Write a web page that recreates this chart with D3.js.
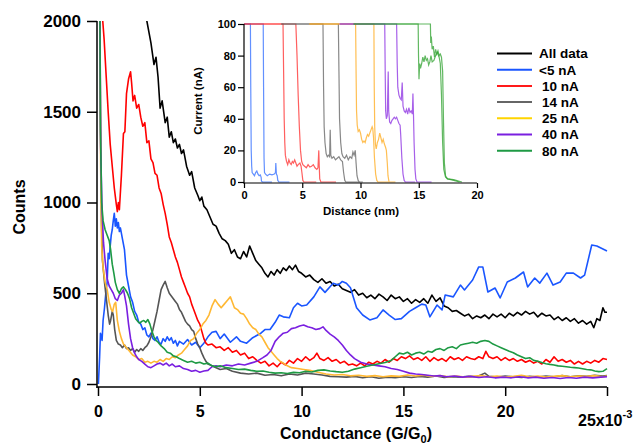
<!DOCTYPE html>
<html>
<head>
<meta charset="utf-8">
<script src="https://cdn.jsdelivr.net/npm/d3@7/dist/d3.min.js"></script>
<style>
  body { margin: 0; background: #fff; }
  svg { display: block; font-family: "Liberation Sans", Arial, sans-serif; }
</style>
</head>
<body>
<svg width="641" height="444"></svg>
<script>
// main histogram: conductance (x1e-3 G/G0) -> counts
const countsAll = [[2.2, 2300], [2.4, 2000], [2.6, 1880], [2.75, 1760], [2.85, 1800], [2.95, 1690], [3.05, 1520], [3.15, 1560], [3.3, 1440], [3.4, 1470], [3.5, 1360], [3.6, 1390], [3.7, 1330], [3.8, 1350], [3.9, 1300], [4.0, 1320], [4.1, 1270], [4.2, 1290], [4.35, 1200], [4.5, 1150], [4.6, 1170], [4.75, 1080], [4.9, 1040], [5.0, 1010], [5.1, 1030], [5.2, 980], [5.35, 960], [5.5, 920], [5.65, 880], [5.8, 870], [5.95, 830], [6.1, 800], [6.25, 790], [6.4, 770], [6.55, 720], [6.7, 740], [6.85, 700], [7.0, 690], [7.15, 730], [7.3, 700], [7.45, 760], [7.6, 720], [7.75, 680], [7.9, 660], [8.05, 640], [8.2, 610], [8.35, 590], [8.5, 620], [8.65, 600], [8.8, 630], [8.95, 610], [9.1, 640], [9.25, 625], [9.4, 650], [9.55, 630], [9.7, 655], [9.85, 620], [10.0, 610], [10.2, 590], [10.4, 600], [10.6, 575], [10.8, 560], [11.0, 580], [11.2, 555], [11.4, 565], [11.6, 540], [11.8, 550], [12.0, 525], [12.2, 515], [12.4, 505], [12.6, 520], [12.8, 490], [13.0, 500], [13.2, 475], [13.4, 490], [13.6, 470], [13.8, 495], [14.0, 480], [14.2, 460], [14.4, 490], [14.6, 470], [14.8, 480], [15.0, 455], [15.2, 470], [15.4, 445], [15.6, 465], [15.8, 450], [16.0, 470], [16.2, 445], [16.4, 490], [16.6, 455], [16.8, 475], [17.0, 430], [17.2, 420], [17.4, 400], [17.6, 405], [17.8, 390], [18.0, 375], [18.2, 385], [18.4, 360], [18.6, 375], [18.8, 365], [19.0, 380], [19.2, 360], [19.4, 385], [19.6, 370], [19.8, 385], [20.0, 365], [20.2, 390], [20.4, 375], [20.6, 395], [20.8, 380], [21.0, 400], [21.2, 385], [21.4, 395], [21.6, 370], [21.8, 390], [22.0, 375], [22.2, 380], [22.4, 355], [22.6, 370], [22.8, 350], [23.0, 365], [23.2, 345], [23.4, 360], [23.6, 335], [23.8, 350], [24.0, 330], [24.2, 345], [24.35, 310], [24.5, 360], [24.65, 350], [24.8, 420], [24.9, 395], [25.0, 395]];

const countsLt5 = [[0.02, 0], [0.08, 150], [0.12, 280], [0.2, 240], [0.25, 350], [0.32, 420], [0.4, 520], [0.45, 560], [0.5, 720], [0.55, 690], [0.6, 760], [0.65, 820], [0.7, 850], [0.75, 900], [0.8, 940], [0.85, 870], [0.9, 910], [0.95, 860], [1.0, 890], [1.05, 840], [1.1, 860], [1.2, 800], [1.3, 740], [1.4, 600], [1.5, 540], [1.6, 480], [1.7, 450], [1.8, 400], [1.9, 380], [2.0, 340], [2.1, 330], [2.2, 300], [2.3, 310], [2.4, 270], [2.5, 260], [2.6, 280], [2.7, 250], [2.8, 240], [2.9, 260], [3.0, 230], [3.1, 220], [3.2, 250], [3.3, 235], [3.4, 260], [3.5, 240], [3.6, 255], [3.7, 225], [3.8, 240], [3.9, 210], [4.0, 235], [4.2, 220], [4.4, 245], [4.6, 215], [4.8, 230], [5.0, 200], [5.2, 225], [5.4, 260], [5.6, 285], [5.8, 290], [6.0, 250], [6.2, 275], [6.5, 230], [6.8, 260], [7.0, 235], [7.3, 225], [7.6, 255], [8.0, 280], [8.2, 300], [8.45, 300], [8.7, 340], [8.9, 380], [9.1, 370], [9.4, 365], [9.6, 420], [9.8, 445], [10.0, 430], [10.25, 435], [10.6, 480], [10.9, 535], [11.15, 505], [11.55, 555], [11.8, 545], [12.0, 565], [12.2, 555], [12.4, 530], [12.7, 420], [13.0, 380], [13.35, 353], [13.7, 365], [14.0, 408], [14.3, 380], [14.6, 355], [14.9, 360], [15.3, 400], [15.6, 420], [15.9, 440], [16.1, 435], [16.3, 370], [16.65, 435], [16.9, 408], [17.05, 490], [17.45, 480], [17.8, 545], [18.0, 518], [18.4, 573], [18.7, 645], [18.9, 645], [19.15, 507], [19.5, 529], [19.75, 474], [20.1, 562], [20.5, 584], [20.9, 617], [21.1, 535], [21.45, 584], [21.7, 556], [22.05, 611], [22.35, 545], [22.7, 562], [23.0, 611], [23.35, 611], [23.7, 584], [23.9, 600], [24.25, 766], [24.5, 760], [25.0, 733]];

const counts10 = [[0.12, 2400], [0.2, 2050], [0.3, 1900], [0.4, 1700], [0.5, 1500], [0.6, 1320], [0.7, 1200], [0.8, 1080], [0.9, 990], [0.95, 950], [1.0, 1000], [1.05, 960], [1.15, 1150], [1.25, 1380], [1.32, 1390], [1.4, 1600], [1.5, 1680], [1.6, 1720], [1.65, 1660], [1.72, 1560], [1.8, 1590], [1.9, 1520], [2.0, 1540], [2.1, 1470], [2.2, 1420], [2.3, 1440], [2.4, 1330], [2.5, 1340], [2.6, 1240], [2.7, 1220], [2.8, 1160], [2.9, 1150], [3.0, 1080], [3.1, 1050], [3.2, 990], [3.3, 940], [3.4, 880], [3.5, 810], [3.6, 780], [3.7, 740], [3.8, 700], [3.9, 670], [4.0, 630], [4.1, 590], [4.2, 560], [4.3, 530], [4.4, 500], [4.5, 480], [4.6, 440], [4.7, 410], [4.8, 380], [4.9, 350], [5.0, 330], [5.1, 290], [5.2, 250], [5.3, 225], [5.4, 215], [5.6, 220], [5.8, 200], [6.0, 205], [6.2, 185], [6.4, 200], [6.6, 175], [6.8, 185], [7.0, 160], [7.2, 170], [7.4, 140], [7.6, 150], [7.8, 130], [8.0, 115], [8.2, 125], [8.4, 100], [8.6, 115], [8.8, 95], [9.0, 120], [9.2, 105], [9.4, 130], [9.6, 115], [9.8, 140], [10.0, 125], [10.2, 150], [10.4, 130], [10.6, 145], [10.75, 170], [10.9, 140], [11.1, 130], [11.3, 145], [11.5, 125], [11.7, 135], [11.9, 115], [12.1, 125], [12.3, 105], [12.5, 110], [12.7, 100], [12.9, 115], [13.1, 100], [13.3, 120], [13.5, 110], [13.7, 125], [13.9, 115], [14.1, 135], [14.3, 120], [14.5, 140], [14.7, 130], [14.9, 150], [15.1, 140], [15.3, 155], [15.5, 135], [15.7, 145], [15.9, 130], [16.1, 150], [16.3, 125], [16.5, 145], [16.7, 130], [16.9, 140], [17.1, 125], [17.3, 150], [17.5, 135], [17.7, 145], [17.9, 130], [18.1, 150], [18.3, 140], [18.5, 135], [18.7, 150], [18.9, 140], [19.05, 180], [19.2, 150], [19.4, 140], [19.6, 150], [19.8, 130], [20.0, 145], [20.2, 130], [20.4, 140], [20.6, 125], [20.8, 135], [21.0, 120], [21.2, 130], [21.4, 115], [21.6, 125], [21.8, 110], [22.0, 135], [22.2, 120], [22.4, 150], [22.6, 125], [22.8, 135], [23.0, 120], [23.2, 130], [23.4, 110], [23.6, 125], [23.8, 110], [24.0, 125], [24.2, 115], [24.4, 130], [24.6, 120], [24.8, 140], [25.0, 135]];

const counts14 = [[0.08, 2400], [0.12, 1500], [0.17, 900], [0.22, 680], [0.27, 620], [0.32, 560], [0.4, 480], [0.5, 380], [0.57, 330], [0.62, 350], [0.7, 400], [0.75, 380], [0.82, 300], [0.9, 240], [1.0, 220], [1.1, 215], [1.2, 200], [1.3, 215], [1.4, 195], [1.5, 200], [1.6, 185], [1.7, 195], [1.8, 175], [1.9, 190], [2.0, 180], [2.1, 195], [2.2, 185], [2.3, 200], [2.4, 210], [2.5, 230], [2.6, 260], [2.7, 300], [2.8, 350], [2.9, 400], [3.0, 460], [3.1, 520], [3.2, 545], [3.3, 565], [3.4, 530], [3.5, 500], [3.6, 485], [3.7, 470], [3.8, 455], [3.9, 440], [4.0, 410], [4.1, 395], [4.2, 370], [4.3, 345], [4.4, 330], [4.5, 320], [4.6, 300], [4.7, 290], [4.8, 250], [4.9, 220], [5.0, 200], [5.1, 170], [5.2, 145], [5.3, 125], [5.4, 110], [5.6, 100], [5.8, 90], [6.0, 80], [6.3, 85], [6.6, 70], [7.0, 60], [7.4, 55], [7.8, 60], [8.2, 48], [8.6, 52], [9.0, 45], [9.4, 55], [9.8, 50], [10.2, 60], [10.6, 55], [11.0, 50], [11.4, 42], [11.8, 40], [12.2, 38], [12.6, 42], [13.0, 34], [13.4, 40], [13.8, 32], [14.2, 38], [14.6, 35], [15.0, 40], [15.4, 36], [15.8, 42], [16.2, 38], [16.6, 44], [17.0, 36], [17.4, 40], [17.8, 38], [18.2, 42], [18.6, 40], [19.0, 60], [19.2, 42], [19.6, 38], [20.0, 44], [20.4, 40], [20.8, 36], [21.2, 42], [21.6, 38], [22.0, 44], [22.4, 40], [22.8, 46], [23.2, 40], [23.6, 45], [24.0, 42], [24.4, 48], [24.8, 44], [25.0, 46]];

const counts25 = [[0.08, 2400], [0.13, 1200], [0.18, 760], [0.25, 640], [0.35, 560], [0.45, 520], [0.55, 450], [0.65, 410], [0.72, 400], [0.8, 440], [0.87, 450], [0.95, 350], [1.05, 290], [1.15, 250], [1.25, 220], [1.4, 200], [1.55, 180], [1.7, 160], [1.85, 150], [2.0, 135], [2.15, 140], [2.3, 120], [2.45, 125], [2.6, 115], [2.75, 125], [2.9, 120], [3.05, 135], [3.2, 125], [3.35, 140], [3.5, 135], [3.65, 150], [3.8, 145], [3.95, 160], [4.1, 170], [4.25, 190], [4.4, 210], [4.55, 240], [4.7, 250], [4.85, 280], [5.0, 300], [5.15, 330], [5.3, 350], [5.45, 380], [5.6, 430], [5.75, 465], [5.9, 440], [6.05, 420], [6.2, 440], [6.35, 460], [6.5, 480], [6.6, 450], [6.7, 420], [6.85, 410], [7.0, 390], [7.15, 385], [7.3, 360], [7.45, 330], [7.6, 310], [7.75, 300], [7.9, 275], [8.05, 260], [8.2, 230], [8.35, 200], [8.5, 180], [8.65, 160], [8.8, 140], [8.95, 125], [9.1, 115], [9.3, 100], [9.5, 90], [9.8, 85], [10.1, 80], [10.4, 75], [10.8, 65], [11.2, 55], [11.6, 50], [12.0, 52], [12.4, 45], [12.8, 48], [13.2, 42], [13.6, 46], [14.0, 40], [14.4, 45], [14.8, 42], [15.2, 50], [15.6, 44], [16.0, 48], [16.4, 42], [16.8, 46], [17.2, 40], [17.6, 44], [18.0, 38], [18.4, 42], [18.8, 46], [19.2, 40], [19.6, 44], [20.0, 38], [20.4, 42], [20.8, 48], [21.2, 40], [21.6, 44], [22.0, 38], [22.4, 42], [22.8, 46], [23.2, 40], [23.6, 44], [24.0, 42], [24.4, 46], [24.8, 40], [25.0, 44]];

const counts40 = [[0.08, 2400], [0.13, 1300], [0.2, 950], [0.27, 780], [0.35, 680], [0.45, 580], [0.55, 540], [0.65, 520], [0.75, 500], [0.85, 470], [0.95, 460], [1.05, 490], [1.15, 500], [1.25, 520], [1.32, 480], [1.4, 430], [1.5, 330], [1.6, 250], [1.7, 200], [1.8, 170], [1.9, 150], [2.0, 135], [2.15, 125], [2.3, 110], [2.45, 95], [2.6, 90], [2.75, 100], [2.9, 110], [3.05, 115], [3.2, 105], [3.35, 115], [3.5, 100], [3.65, 110], [3.8, 95], [4.0, 100], [4.2, 85], [4.4, 80], [4.6, 70], [4.8, 75], [5.0, 65], [5.2, 72], [5.4, 75], [5.6, 95], [5.8, 100], [6.0, 95], [6.3, 105], [6.6, 100], [6.9, 110], [7.2, 105], [7.5, 115], [7.8, 125], [8.1, 145], [8.3, 160], [8.5, 185], [8.7, 235], [8.9, 260], [9.1, 280], [9.3, 285], [9.5, 305], [9.7, 310], [9.9, 320], [10.1, 325], [10.3, 315], [10.5, 310], [10.7, 300], [10.9, 305], [11.05, 315], [11.2, 295], [11.4, 275], [11.6, 260], [11.8, 240], [12.0, 215], [12.2, 185], [12.4, 160], [12.6, 140], [12.9, 120], [13.2, 110], [13.5, 105], [13.8, 100], [14.1, 95], [14.4, 85], [14.7, 80], [15.0, 70], [15.3, 60], [15.6, 55], [15.9, 52], [16.2, 48], [16.5, 44], [16.8, 46], [17.1, 40], [17.5, 44], [17.9, 38], [18.3, 42], [18.7, 36], [19.1, 40], [19.5, 34], [19.9, 38], [20.3, 34], [20.7, 40], [21.1, 34], [21.5, 38], [21.9, 32], [22.3, 36], [22.7, 30], [23.1, 36], [23.5, 32], [23.9, 38], [24.3, 34], [24.7, 38], [25.0, 40]];

const counts80 = [[0.08, 2400], [0.12, 1400], [0.18, 1000], [0.25, 900], [0.35, 850], [0.45, 820], [0.55, 790], [0.62, 740], [0.7, 660], [0.78, 610], [0.85, 560], [0.95, 520], [1.05, 500], [1.15, 525], [1.25, 535], [1.35, 520], [1.45, 500], [1.55, 470], [1.65, 420], [1.75, 390], [1.85, 360], [1.95, 345], [2.05, 335], [2.15, 345], [2.25, 350], [2.35, 340], [2.45, 355], [2.55, 330], [2.65, 290], [2.75, 260], [2.85, 240], [2.95, 230], [3.1, 210], [3.25, 195], [3.4, 175], [3.55, 170], [3.7, 155], [3.85, 150], [4.0, 140], [4.2, 130], [4.4, 120], [4.6, 125], [4.8, 115], [5.0, 120], [5.2, 110], [5.4, 115], [5.6, 100], [5.8, 95], [6.0, 100], [6.3, 90], [6.6, 85], [6.9, 80], [7.2, 82], [7.5, 75], [7.8, 70], [8.1, 72], [8.4, 65], [8.7, 60], [9.0, 62], [9.3, 58], [9.6, 64], [9.9, 62], [10.2, 70], [10.5, 66], [10.8, 75], [11.1, 78], [11.4, 72], [11.7, 68], [12.0, 65], [12.3, 70], [12.6, 82], [12.9, 90], [13.2, 98], [13.5, 105], [13.8, 112], [14.1, 118], [14.4, 130], [14.6, 150], [14.8, 170], [15.0, 165], [15.2, 175], [15.4, 160], [15.6, 170], [15.8, 175], [16.0, 165], [16.2, 180], [16.4, 175], [16.6, 190], [16.8, 195], [17.0, 185], [17.2, 200], [17.4, 205], [17.6, 195], [17.8, 215], [18.0, 220], [18.2, 225], [18.4, 230], [18.6, 225], [18.8, 235], [19.0, 240], [19.2, 235], [19.4, 220], [19.6, 210], [19.8, 200], [20.0, 190], [20.2, 180], [20.4, 172], [20.6, 160], [20.8, 150], [21.0, 140], [21.2, 145], [21.4, 130], [21.6, 125], [21.8, 118], [22.0, 112], [22.2, 108], [22.4, 105], [22.6, 100], [22.8, 98], [23.0, 95], [23.2, 92], [23.4, 90], [23.6, 88], [23.8, 84], [24.0, 80], [24.2, 78], [24.4, 72], [24.6, 68], [24.8, 70], [25.0, 85]];

const seriesNames = ["All data", "<5 nA", "10 nA", "14 nA", "25 nA", "40 nA", "80 nA"];
const seriesColors = ["#000000", "#1a56ff", "#ff0000", "#555555", "#ffb833", "#7a1fe0", "#1e9a44"];
const legendColors = ["#000000", "#1a56ff", "#ff1a1a", "#666666", "#ffd400", "#7a1fe0", "#1e9a44"];
const xTicks = [0, 5, 10, 15, 20, 25];
const yTicks = [0, 500, 1000, 1500, 2000];

// inset: distance (nm) -> current (nA), two traces per set point
const traceBlue1 = [[0, 100], [0.55, 100], [0.58, 60], [0.62, 20], [0.66, 10], [0.7, 6], [0.8, 5], [0.9, 4], [1.0, 6], [1.1, 7], [1.2, 5], [1.3, 4], [1.4, 4.5], [1.47, 3], [1.5, 0.5], [1.6, 0], [2.4, 0]];
const traceBlue2 = [[0, 100], [1.65, 100], [1.68, 60], [1.72, 15], [1.76, 6], [1.85, 5], [2.0, 4], [2.2, 5], [2.4, 4.5], [2.6, 5], [2.7, 6], [2.73, 12], [2.78, 5], [2.85, 4], [2.9, 1], [3.0, 0], [3.9, 0]];
const traceRed1 = [[0, 100], [3.35, 100], [3.4, 70], [3.45, 40], [3.5, 25], [3.55, 17], [3.65, 13], [3.75, 11], [3.85, 14], [3.95, 12], [4.05, 11], [4.15, 13], [4.25, 12], [4.35, 14], [4.45, 12], [4.55, 10], [4.65, 11], [4.8, 12], [4.9, 10], [4.97, 6], [5.05, 1], [5.15, 0], [6.2, 0]];
const traceRed2 = [[0, 100], [4.45, 100], [4.55, 80], [4.65, 55], [4.75, 35], [4.85, 20], [4.95, 13], [5.05, 11], [5.2, 10], [5.35, 9], [5.5, 11], [5.65, 9.5], [5.8, 10], [5.95, 11], [6.1, 9], [6.25, 8], [6.35, 9], [6.42, 20], [6.46, 10], [6.5, 2], [6.6, 0], [7.9, 0]];
const traceGray1 = [[3.2, 100], [6.78, 100], [6.83, 60], [6.88, 35], [6.95, 25], [7.05, 18], [7.15, 16], [7.25, 17], [7.35, 16], [7.4, 33], [7.45, 17], [7.55, 15], [7.7, 16], [7.85, 14], [8.0, 15], [8.15, 16], [8.3, 14], [8.45, 13], [8.55, 6], [8.65, 1], [8.75, 0], [9.9, 0]];
const traceGray2 = [[3.2, 100], [8.1, 100], [8.15, 70], [8.2, 40], [8.3, 25], [8.4, 18], [8.5, 16], [8.65, 15], [8.8, 17], [8.95, 14], [9.1, 16], [9.25, 15], [9.35, 19], [9.45, 17], [9.55, 20], [9.62, 12], [9.7, 4], [9.8, 1], [9.9, 0], [10.2, 0]];
const traceYellow1 = [[5.6, 100], [9.58, 100], [9.62, 70], [9.66, 45], [9.72, 36], [9.8, 32], [9.9, 33], [10.0, 31], [10.1, 27], [10.2, 25], [10.3, 26], [10.4, 25], [10.5, 28], [10.6, 30], [10.7, 29], [10.8, 31], [10.9, 33], [11.0, 35], [11.05, 34], [11.12, 28], [11.2, 15], [11.3, 5], [11.4, 1], [11.5, 0], [12.4, 0]];
const traceYellow2 = [[5.6, 100], [11.15, 100], [11.18, 60], [11.22, 35], [11.28, 24], [11.35, 21], [11.45, 25], [11.55, 27], [11.65, 31], [11.75, 28], [11.85, 25], [11.95, 27], [12.05, 24], [12.15, 22], [12.22, 20], [12.3, 12], [12.36, 4], [12.45, 0], [13.0, 0]];
const tracePurple1 = [[8.2, 100], [12.08, 100], [12.12, 70], [12.16, 45], [12.22, 40], [12.3, 42], [12.38, 70], [12.42, 45], [12.5, 38], [12.6, 37], [12.7, 39], [12.8, 40], [12.9, 41], [13.0, 40], [13.1, 41], [13.2, 39], [13.3, 37], [13.4, 36], [13.45, 30], [13.55, 15], [13.65, 5], [13.75, 1], [13.85, 0], [14.7, 0]];
const tracePurple2 = [[8.2, 100], [13.1, 100], [13.15, 75], [13.2, 60], [13.3, 55], [13.4, 53], [13.5, 52], [13.58, 63], [13.65, 48], [13.75, 45], [13.85, 44], [13.95, 46], [14.05, 43], [14.15, 47], [14.25, 44], [14.35, 45], [14.45, 43], [14.5, 56], [14.55, 42], [14.6, 25], [14.68, 8], [14.75, 2], [14.85, 0], [16.1, 0]];
const traceGreen1 = [[9.4, 100], [14.95, 100], [14.98, 80], [15.02, 65], [15.08, 75], [15.15, 72], [15.25, 75], [15.35, 79], [15.45, 76], [15.55, 80], [15.65, 77], [15.75, 78], [15.85, 74], [15.95, 76], [16.05, 80], [16.15, 76], [16.3, 77], [16.45, 80], [16.6, 82], [16.75, 79], [16.85, 75], [16.95, 55], [17.05, 25], [17.15, 8], [17.3, 3], [17.5, 2], [18.0, 1], [18.5, 0]];
const traceGreen2 = [[9.4, 100], [16.0, 100], [16.03, 88], [16.08, 92], [16.15, 84], [16.25, 86], [16.35, 79], [16.45, 84], [16.55, 81], [16.65, 83], [16.75, 80], [16.85, 81], [16.95, 79], [17.05, 70], [17.12, 40], [17.2, 12], [17.3, 4], [17.45, 2], [18.0, 1.5], [18.7, 0]];
const traceColors = ["#2d6bff", "#ff2a2a", "#606060", "#ffaa1a", "#8a2be2", "#2ca02c"];
const insetXTicks = [0, 5, 10, 15, 20];
const insetYTicks = [0, 20, 40, 60, 80, 100];

const svg = d3.select("svg");

const x = d3.scaleLinear().domain([0, 25]).range([98, 607]);
const y = d3.scaleLinear().domain([0, 2000]).range([384, 21]);

svg.append("defs").append("clipPath").attr("id", "plotclip")
  .append("rect").attr("x", 97).attr("y", 21).attr("width", 512).attr("height", 366);

const line = d3.line().x(d => x(d[0])).y(d => y(d[1]));
const curves = [countsAll, countsLt5, counts10, counts14, counts25, counts40, counts80];

svg.append("g").attr("clip-path", "url(#plotclip)")
  .selectAll("path")
  .data(curves)
  .enter()
  .append("path")
  .attr("d", line)
  .attr("fill", "none")
  .attr("stroke", (d, i) => seriesColors[i])
  .attr("stroke-width", 1.6)
  .attr("stroke-linejoin", "round");

// axes
const yAxis = svg.append("g")
  .attr("transform", "translate(97,0)")
  .call(d3.axisLeft(y).tickValues(yTicks).tickSize(10).tickPadding(6).tickSizeOuter(0)
    .tickFormat(d3.format("d")));
const xAxis = svg.append("g")
  .attr("transform", "translate(0,387)")
  .call(d3.axisBottom(x).tickValues(xTicks).tickSize(9).tickPadding(10).tickSizeOuter(0)
    .tickFormat(d => d == 25 ? "" : d));

[yAxis, xAxis].forEach(a => {
  a.select(".domain").remove();
  a.selectAll(".tick line").attr("stroke", "#000").attr("stroke-width", 1.5);
  a.selectAll(".tick text").attr("fill", "#000")
    .style("font-size", "16px").style("font-weight", "bold")
    .style("font-family", '"Liberation Sans", Arial, sans-serif');
});
yAxis.selectAll(".tick text").style("font-size", "17px");
svg.append("line").attr("x1", 97).attr("x2", 97).attr("y1", 21).attr("y2", 388)
  .attr("stroke", "#000").attr("stroke-width", 1.5);
svg.append("line").attr("x1", 96.5).attr("x2", 607).attr("y1", 387).attr("y2", 387)
  .attr("stroke", "#000").attr("stroke-width", 1.5);

const exp = svg.append("text").attr("x", 578).attr("y", 426)
  .style("font-size", "16px").style("font-weight", "bold").text("25x10");
exp.append("tspan").attr("dy", -8).style("font-size", "11px").text("-3");

const xl = svg.append("text").attr("x", 356).attr("y", 439).attr("text-anchor", "middle")
  .style("font-size", "16px").style("font-weight", "bold").text("Conductance (G/G");
xl.append("tspan").attr("dy", 4).style("font-size", "11px").text("0");
xl.append("tspan").attr("dy", -4).text(")");

svg.append("text").attr("transform", "translate(25,207) rotate(-90)")
  .attr("text-anchor", "middle")
  .style("font-size", "16px").style("font-weight", "bold").text("Counts");

// legend
const legend = svg.append("g").selectAll("g")
  .data(seriesNames)
  .enter()
  .append("g")
  .attr("transform", (d, i) => "translate(0," + (53.5 + i * 16.2) + ")");
legend.append("line").attr("x1", 497).attr("x2", 532)
  .attr("stroke", (d, i) => legendColors[i]).attr("stroke-width", 2);
legend.append("text")
  .attr("x", d => /^\d/.test(d) ? 542 : 539)
  .attr("dy", "0.36em")
  .style("font-size", "13.5px").style("font-weight", "bold")
  .text(d => d);

// inset
const ix = d3.scaleLinear().domain([0, 20]).range([244, 477]);
const iy = d3.scaleLinear().domain([0, 100]).range([182, 24]);
const iline = d3.line().x(d => ix(d[0])).y(d => iy(d[1]));
const traces = [
  [traceBlue1, 0], [traceBlue2, 0], [traceRed1, 1], [traceRed2, 1],
  [traceGray1, 2], [traceGray2, 2], [traceYellow1, 3], [traceYellow2, 3],
  [tracePurple1, 4], [tracePurple2, 4], [traceGreen1, 5], [traceGreen2, 5]
];
svg.append("g").selectAll("path")
  .data(traces)
  .enter()
  .append("path")
  .attr("d", d => iline(d[0]))
  .attr("fill", "none")
  .attr("stroke", d => traceColors[d[1]])
  .attr("stroke-opacity", 0.75)
  .attr("stroke-width", 1.2);

const iyAxis = svg.append("g").attr("transform", "translate(244,0)")
  .call(d3.axisLeft(iy).tickValues(insetYTicks).tickSize(6).tickPadding(2).tickSizeOuter(0));
const ixAxis = svg.append("g").attr("transform", "translate(0,183)")
  .call(d3.axisBottom(ix).tickValues(insetXTicks).tickSize(5).tickPadding(3).tickSizeOuter(0));
[iyAxis, ixAxis].forEach(a => {
  a.select(".domain").remove();
  a.selectAll(".tick line").attr("stroke", "#000").attr("stroke-width", 1.2);
  a.selectAll(".tick text").attr("fill", "#000")
    .style("font-size", "11px").style("font-weight", "bold")
    .style("font-family", '"Liberation Sans", Arial, sans-serif');
});
svg.append("line").attr("x1", 244).attr("x2", 244).attr("y1", 24).attr("y2", 183.5)
  .attr("stroke", "#000").attr("stroke-width", 1.2);
svg.append("line").attr("x1", 243.5).attr("x2", 477).attr("y1", 183).attr("y2", 183)
  .attr("stroke", "#000").attr("stroke-width", 1.2);

svg.append("text").attr("transform", "translate(202,101) rotate(-90)")
  .attr("text-anchor", "middle")
  .style("font-size", "11.5px").style("font-weight", "bold").text("Current (nA)");
svg.append("text").attr("x", 361).attr("y", 215).attr("text-anchor", "middle")
  .style("font-size", "11.5px").style("font-weight", "bold").text("Distance (nm)");
</script>
</body>
</html>
